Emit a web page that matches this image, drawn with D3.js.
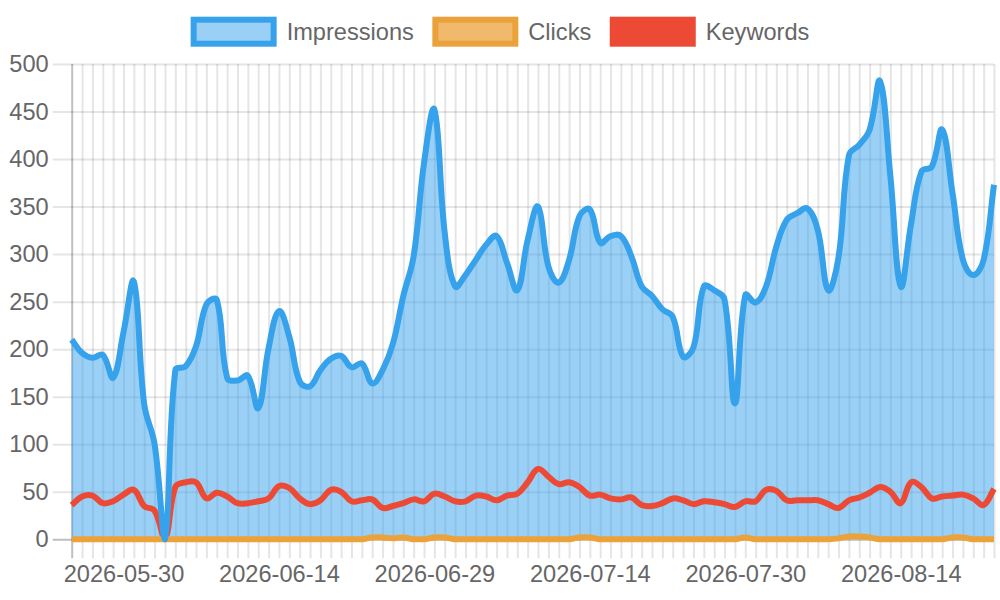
<!DOCTYPE html>
<html>
<head>
<meta charset="utf-8">
<script src="https://cdn.jsdelivr.net/npm/d3@7"></script>
<style>
    html, body { margin: 0; padding: 0; background: #fff; }
    svg { display: block; font-family: "Liberation Sans", Arial, Helvetica, sans-serif; }
</style>
</head>
<body>
<svg width="1000" height="600"></svg>
<script>
// 日付 (1日抜けあり)
const startDay = "2026-05-25";
const endDay = "2026-08-24";
const missingDays = ["2026-07-20"];
const tickLabels = ["2026-05-30", "2026-06-14", "2026-06-29", "2026-07-14", "2026-07-30", "2026-08-14"];
const yTicks = [0, 50, 100, 150, 200, 250, 300, 350, 400, 450, 500];

const seriesNames = ["Impressions", "Clicks", "Keywords"];

const impressions = [
    210, 196, 191, 194, 170, 218, 271, 142, 100, 0,
    178, 182, 203, 247, 252, 170, 167, 172, 138, 201,
    240, 213, 166, 161, 178, 190, 193, 181, 185, 164,
    178, 206, 256, 298, 396, 452, 322, 266, 278, 294,
    310, 319, 291, 262, 315, 350, 287, 270, 294, 340,
    347, 312, 319, 319, 298, 266, 256, 242, 234, 192,
    202, 266, 262, 252, 143, 257, 249, 266, 308, 336,
    343, 348, 325, 262, 297, 404, 415, 431, 482, 382,
    266, 332, 387, 392, 431, 364, 294, 278, 294, 373,
];
const clicks = [
    0, 0, 0, 0, 0, 0, 0, 0, 0, 0,
    0, 0, 0, 0, 0, 0, 0, 0, 0, 0,
    0, 0, 0, 0, 0, 0, 0, 0, 0, 2,
    2, 1, 2, 0, 0, 2, 2, 0, 0, 0,
    0, 0, 0, 0, 0, 0, 0, 0, 0, 2,
    2, 0, 0, 0, 0, 0, 0, 0, 0, 0,
    0, 0, 0, 0, 0, 2, 0, 0, 0, 0,
    0, 0, 0, 0, 1, 3, 3, 2, 0, 0,
    0, 0, 0, 0, 0, 2, 2, 0, 0, 0,
];
const keywords = [
    36, 45, 46, 38, 40, 47, 52, 35, 30, 0,
    55, 60, 60, 43, 49, 45, 38, 38, 40, 43,
    56, 54, 43, 37, 41, 52, 50, 40, 41, 42,
    33, 35, 38, 42, 40, 48, 45, 40, 40, 46,
    45, 41, 46, 48, 60, 74, 66, 58, 60, 55,
    46, 47, 43, 42, 44, 36, 35, 38, 43, 41,
    37, 40, 39, 37, 34, 40, 40, 52, 51, 41,
    41, 41, 41, 37, 33, 41, 44, 49, 55, 50,
    38, 60, 55, 43, 45, 46, 47, 43, 36, 53,
];

const fmt = d3.timeFormat("%Y-%m-%d");
const parse = d3.timeParse("%Y-%m-%d");
const dates = d3.timeDay.range(parse(startDay), parse(endDay))
    .map(fmt)
    .filter(d => !missingDays.includes(d));

const colors = {
    Impressions: { stroke: "#36a2eb", fill: "rgba(54,162,235,0.5)" },
    Clicks: { stroke: "#eca23a", fill: "#f1b96b" },
    Keywords: { stroke: "#ed4a36", fill: "#ed4a36" },
};
const fontSize = 23.6;
const fontFamily = "Liberation Sans, Arial, sans-serif";

const svg = d3.select("svg");
const margin = {
    top: 64,
    right: 6,
    bottom: 60.7,
    left: 71.7,
};
const width = Number(svg.attr("width")) - margin.left - margin.right;
const height = Number(svg.attr("height")) - margin.top - margin.bottom;
const g = svg.append("g")
    .attr("transform", `translate(${margin.left},${margin.top})`);

const xScale = d3.scalePoint()
    .domain(dates)
    .range([0, width]);
const yScale = d3.scaleLinear()
    .domain([0, 500])
    .range([height, 0]);

const gridColor = "rgba(0,0,0,0.1)";
const zeroColor = "rgba(0,0,0,0.25)";
const tickLen = 19;

// Chart.js風のベジェ曲線 (tension 0.4, 領域内にキャップ)
function chartCurve(tension) {
    function Curve(context) { this._context = context; }
    Curve.prototype = {
        areaStart() { this._line = 0; },
        areaEnd() { this._line = NaN; },
        lineStart() { this._x = []; this._y = []; },
        point(x, y) { this._x.push(+x); this._y.push(+y); },
        lineEnd() {
            const x = this._x, y = this._y, n = x.length;
            const ctx = this._context;
            const cap = (v, lo, hi) => Math.max(lo, Math.min(hi, v));
            if (n) {
                if (this._line) ctx.lineTo(x[0], y[0]);
                else ctx.moveTo(x[0], y[0]);
                const cp = [];
                for (let i = 0; i < n; i++) {
                    const p = Math.max(i - 1, 0), q = Math.min(i + 1, n - 1);
                    const d01 = Math.hypot(x[i] - x[p], y[i] - y[p]);
                    const d12 = Math.hypot(x[q] - x[i], y[q] - y[i]);
                    let s01 = d01 / (d01 + d12), s12 = d12 / (d01 + d12);
                    if (isNaN(s01)) s01 = 0;
                    if (isNaN(s12)) s12 = 0;
                    const fa = tension * s01, fb = tension * s12;
                    cp.push({
                        px: cap(x[i] - fa * (x[q] - x[p]), 0, width),
                        py: cap(y[i] - fa * (y[q] - y[p]), 0, height),
                        nx: cap(x[i] + fb * (x[q] - x[p]), 0, width),
                        ny: cap(y[i] + fb * (y[q] - y[p]), 0, height),
                    });
                }
                for (let i = 1; i < n; i++) {
                    ctx.bezierCurveTo(cp[i - 1].nx, cp[i - 1].ny, cp[i].px, cp[i].py, x[i], y[i]);
                }
            }
            if (this._line || (this._line !== 0 && n === 1)) ctx.closePath();
            this._line = 1 - this._line;
        },
    };
    return context => new Curve(context);
}
const curve = chartCurve(0.4);

// 縦グリッド + 目盛り
const xGrid = g.append("g")
    .attr("class", "grid grid--x")
    .call(d3.axisBottom(xScale).tickSize(height + tickLen).tickFormat(""));
xGrid.select(".domain").remove();
xGrid.selectAll(".tick line")
    .attr("stroke", (d, i) => i === 0 ? zeroColor : gridColor)
    .attr("stroke-width", 2);

// 横グリッド + 目盛り
const yGrid = g.append("g")
    .attr("class", "grid grid--y")
    .attr("transform", `translate(${-tickLen},0)`)
    .call(d3.axisRight(yScale).tickValues(yTicks).tickSize(width + tickLen).tickFormat(""));
yGrid.select(".domain").remove();
yGrid.selectAll(".tick line")
    .attr("stroke", d => d === 0 ? zeroColor : gridColor)
    .attr("stroke-width", 2);

// x軸ラベル
const xAxis = g.append("g")
    .attr("class", "axis axis--x")
    .attr("transform", `translate(0,${height + tickLen})`)
    .call(d3.axisBottom(xScale).tickSize(0).tickPadding(7)
        .tickValues(tickLabels));
xAxis.select(".domain").remove();
xAxis.selectAll("text")
    .attr("fill", "#666")
    .attr("font-size", fontSize)
    .attr("font-family", fontFamily);

// y軸ラベル
const yAxis = g.append("g")
    .attr("class", "axis axis--y")
    .attr("transform", `translate(${-tickLen},0)`)
    .call(d3.axisLeft(yScale).tickValues(yTicks).tickSize(0).tickPadding(4));
yAxis.select(".domain").remove();
yAxis.selectAll("text")
    .attr("fill", "#666")
    .attr("font-size", fontSize)
    .attr("font-family", fontFamily);

// 塗りつぶし
const area = d3.area()
    .x((d, i) => xScale(dates[i]))
    .y0(yScale(0))
    .y1(d => yScale(d))
    .curve(curve);
g.append("path")
    .datum(impressions)
    .attr("d", area)
    .attr("fill", colors.Impressions.fill);
g.append("path")
    .datum(clicks)
    .attr("d", area)
    .attr("fill", colors.Clicks.fill)
    .attr("fill-opacity", 0.6);

// 折れ線 (Keywords → Clicks → Impressions の順で上に重ねる)
const line = d3.line()
    .x((d, i) => xScale(dates[i]))
    .y(d => yScale(d))
    .curve(curve);
[["Keywords", keywords], ["Clicks", clicks], ["Impressions", impressions]].forEach(([name, values]) => {
    g.append("path")
        .datum(values)
        .attr("d", line)
        .attr("stroke", colors[name].stroke)
        .attr("stroke-width", 6)
        .attr("stroke-linejoin", "round")
        .attr("fill", "none");
});

// 凡例
const legend = svg.append("g").attr("class", "legend");
const boxW = 80, boxH = 24, boxStroke = 6, textGap = 10, itemGap = 18.5;
const items = seriesNames.map(name => {
    const it = legend.append("g");
    it.append("rect")
        .attr("width", boxW)
        .attr("height", boxH)
        .attr("fill", colors[name].fill)
        .attr("stroke", colors[name].stroke)
        .attr("stroke-width", boxStroke);
    const t = it.append("text")
        .attr("font-size", fontSize)
        .attr("fill", "#666")
        .attr("font-family", fontFamily)
        .attr("x", boxW + boxStroke / 2 + textGap)
        .attr("y", boxH / 2)
        .attr("dy", "0.35em")
        .text(name);
    return { it, w: boxW + boxStroke + textGap + t.node().getComputedTextLength() };
});
const total = d3.sum(items, d => d.w) + itemGap * (items.length - 1);
let lx = 500 - total / 2;
items.forEach(d => {
    d.it.attr("transform", `translate(${lx + boxStroke / 2},19.7)`);
    lx += d.w + itemGap;
});
</script>
</body>
</html>
